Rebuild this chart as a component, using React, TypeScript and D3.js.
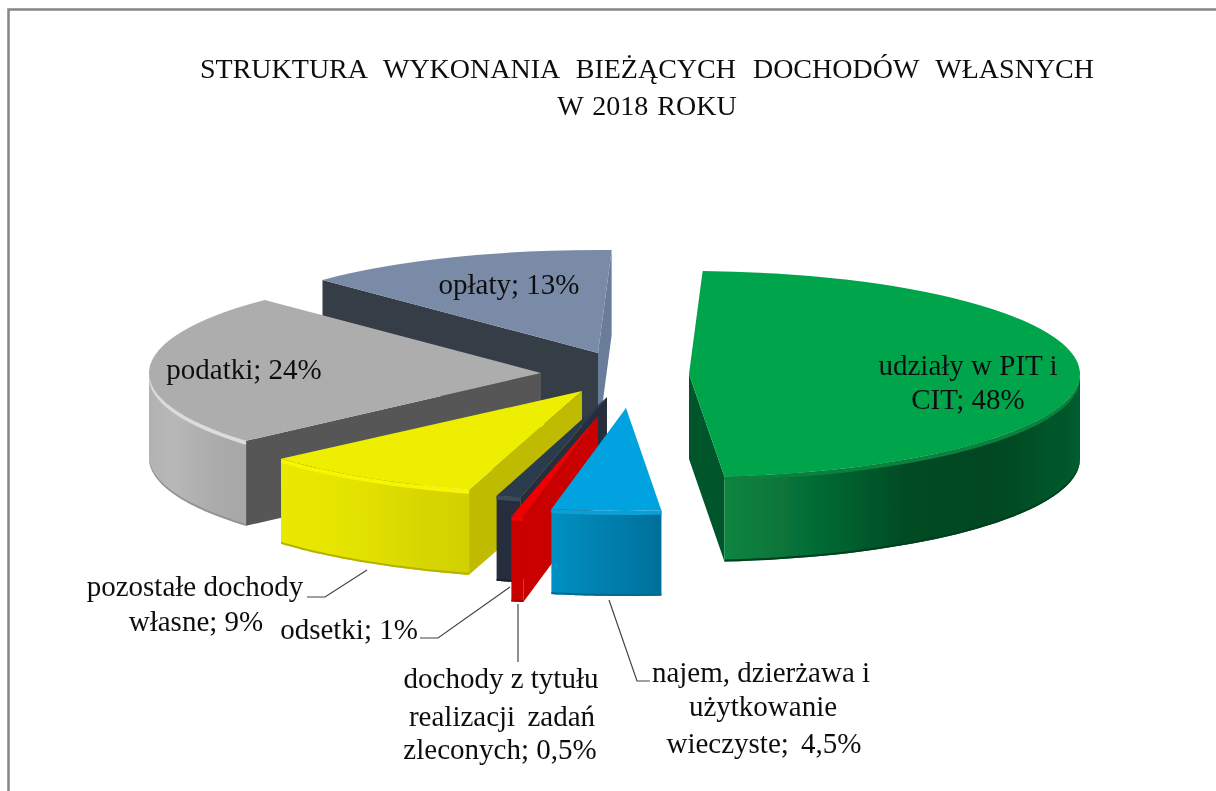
import React from "react";
import * as d3 from "d3";

const categories = ["udziały w PIT i CIT", "najem, dzierżawa i użytkowanie wieczyste", "dochody z tytułu realizacji zadań zleconych", "odsetki", "pozostałe dochody własne", "podatki", "opłaty"];
const shares = [48, 4.5, 0.5, 1, 9, 24, 13];
const titleLines = ["STRUKTURA WYKONANIA BIEŻĄCYCH DOCHODÓW WŁASNYCH", "W 2018 ROKU"];

// layout + style (not data)
const W = 1216, H = 791;
const RY = 103, DEPTH = 85;
const radiiX = [391, 391, 391, 391, 400, 392, 391];
const apexes: [number, number][] = [[689, 374], [626, 408], [598, 416], [607, 397], [582, 391], [541, 373], [598, 353]];
const paintOrder = [6, 5, 0, 4, 3, 2, 1];
const topColors = ["#00a44c", "#00a3e0", "#ee0000", "#2b3a4e", "#eeee00", "#adadad", "#7a8ba8"];
const wallColors = ["#03562a", "#007aa8", "#c80000", "#262f3d", "#bfbb00", "#575757", "#343c47"];
const endWallColors = ["#03562a", "#007aa8", "#c80000", "#262f3d", "#bfbb00", "#575757", "#6a7d98"];
const rimStops = [
  ["#098540", "#066c35", "#004c24", "#004620", "#055c2e"],
  ["#0090c4", "#0088b8", "#007fae", "#0078a5", "#006f99"],
  ["#c80000", "#c80000", "#c80000", "#c80000", "#c80000"],
  ["#262f3d", "#262f3d", "#262f3d", "#262f3d", "#262f3d"],
  ["#e8e800", "#e6e600", "#e0df00", "#d8d600", "#d2d000"],
  ["#b2b2b2", "#b8b8b8", "#b0b0b0", "#aaaaaa", "#a8a8a8"],
  ["#343c47", "#343c47", "#343c47", "#343c47", "#343c47"],
];
const bevelColors = ["#07803e", "#0f9fd4", "#f40000", "#3a4a60", "#f6f600", "#dcdcdc", "#7a8ba8"];
const lowerEdgeColors = ["#033f1f", "#006a90", "#a80000", "#1a212c", "#b4b200", "#949494", "#343c47"];

type Lbl = { x: number; y: number; t: string; ws?: number };
const labels: Lbl[] = [
  { x: 968, y: 375, t: "udziały w PIT i" },
  { x: 968, y: 409, t: "CIT; 48%" },
  { x: 509, y: 294, t: "opłaty; 13%" },
  { x: 244, y: 379, t: "podatki; 24%" },
  { x: 195, y: 596, t: "pozostałe dochody" },
  { x: 196, y: 631, t: "własne; 9%" },
  { x: 349, y: 639, t: "odsetki; 1%" },
  { x: 501, y: 688, t: "dochody z tytułu" },
  { x: 502, y: 726, t: "realizacji zadań", ws: 5 },
  { x: 500, y: 759, t: "zleconych; 0,5%" },
  { x: 761, y: 682, t: "najem, dzierżawa i" },
  { x: 763, y: 716, t: "użytkowanie" },
  { x: 764, y: 753, t: "wieczyste; 4,5%", ws: 5 },
];
const leaders: [number, number][][] = [
  [[307, 597], [325, 597], [367, 570]],
  [[420, 638], [438, 638], [510, 587]],
  [[518, 604], [518, 662]],
  [[609, 600], [637, 681], [650, 681]],
];

const deg = Math.PI / 180;
const pie = d3.pie<number>().sort(null).startAngle(2 * deg).endAngle(362 * deg);
const arcs = pie(shares);
const arcGen = d3.arc<any>().innerRadius(0);
const pointLine = d3.line();

export default function App() {
  const pt = (i: number, a: number, d = 0): [number, number] => [
    apexes[i][0] + radiiX[i] * Math.sin(a),
    apexes[i][1] - RY * Math.cos(a) + d,
  ];
  const rim = (i: number, d0: number, d1: number) => {
    const lo = Math.max(arcs[i].startAngle, 90 * deg);
    const hi = Math.min(arcs[i].endAngle, 270 * deg);
    if (hi <= lo) return null;
    const as = d3.range(0, 41).map((k) => lo + ((hi - lo) * k) / 40);
    const top = as.map((a) => pt(i, a, d0));
    const bot = as.slice().reverse().map((a) => pt(i, a, d1));
    return pointLine([...top, ...bot]) + "Z";
  };
  const wall = (i: number, a: number) => {
    const [ax, ay] = apexes[i];
    return pointLine([[ax, ay], pt(i, a), pt(i, a, DEPTH), [ax, ay + DEPTH]]) + "Z";
  };
  return (
    <svg width={W} height={H} style={{ position: "absolute", left: 0, top: 0, background: "#fff" }}>
      <defs>
        <filter id="soft" x="-2%" y="-2%" width="104%" height="104%">
          <feGaussianBlur stdDeviation="0.45" />
        </filter>
        {rimStops.map((s, i) => (
          <linearGradient key={i} id={`rim${i}`} x1="0" x2="1" y1="0" y2="0">
            {s.map((c, k) => (
              <stop key={k} offset={k / (s.length - 1)} stopColor={c} />
            ))}
          </linearGradient>
        ))}
      </defs>
      <g filter="url(#soft)">
        <path d="M8.5,791V9.5H1216" fill="none" stroke="#868686" strokeWidth={2.5} />
        {paintOrder.map((i) => {
          const a = arcs[i];
          const [ax, ay] = apexes[i];
          return (
            <g key={categories[i]}>
              {Math.sin(a.endAngle) > 0 && <path d={wall(i, a.endAngle)} fill={endWallColors[i]} />}
              {Math.sin(a.startAngle) < 0 && <path d={wall(i, a.startAngle)} fill={wallColors[i]} />}
              {rim(i, 0, DEPTH) && <path d={rim(i, 0, DEPTH)!} fill={`url(#rim${i})`} />}
              {rim(i, 0, 4) && <path d={rim(i, 0, 4)!} fill={bevelColors[i]} />}
              {rim(i, DEPTH - 2, DEPTH) && <path d={rim(i, DEPTH - 2, DEPTH)!} fill={lowerEdgeColors[i]} />}
              <path
                d={arcGen({ startAngle: a.startAngle, endAngle: a.endAngle, outerRadius: radiiX[i] }) as string}
                transform={`translate(${ax},${ay}) scale(1,${RY / radiiX[i]})`}
                fill={topColors[i]}
              />
            </g>
          );
        })}
        {leaders.map((l, i) => (
          <path key={i} d={pointLine(l)!} fill="none" stroke="#444" strokeWidth={1.2} />
        ))}
        <g fontFamily="'Liberation Serif'" fill="#111" textAnchor="middle">
          <text x={647} y={78} fontSize={28} wordSpacing={10}>{titleLines[0]}</text>
          <text x={647} y={115} fontSize={28} wordSpacing={2}>{titleLines[1]}</text>
          {labels.map((l) => (
            <text key={l.t} x={l.x} y={l.y} fontSize={29} wordSpacing={l.ws ?? 0}>{l.t}</text>
          ))}
        </g>
      </g>
    </svg>
  );
}
